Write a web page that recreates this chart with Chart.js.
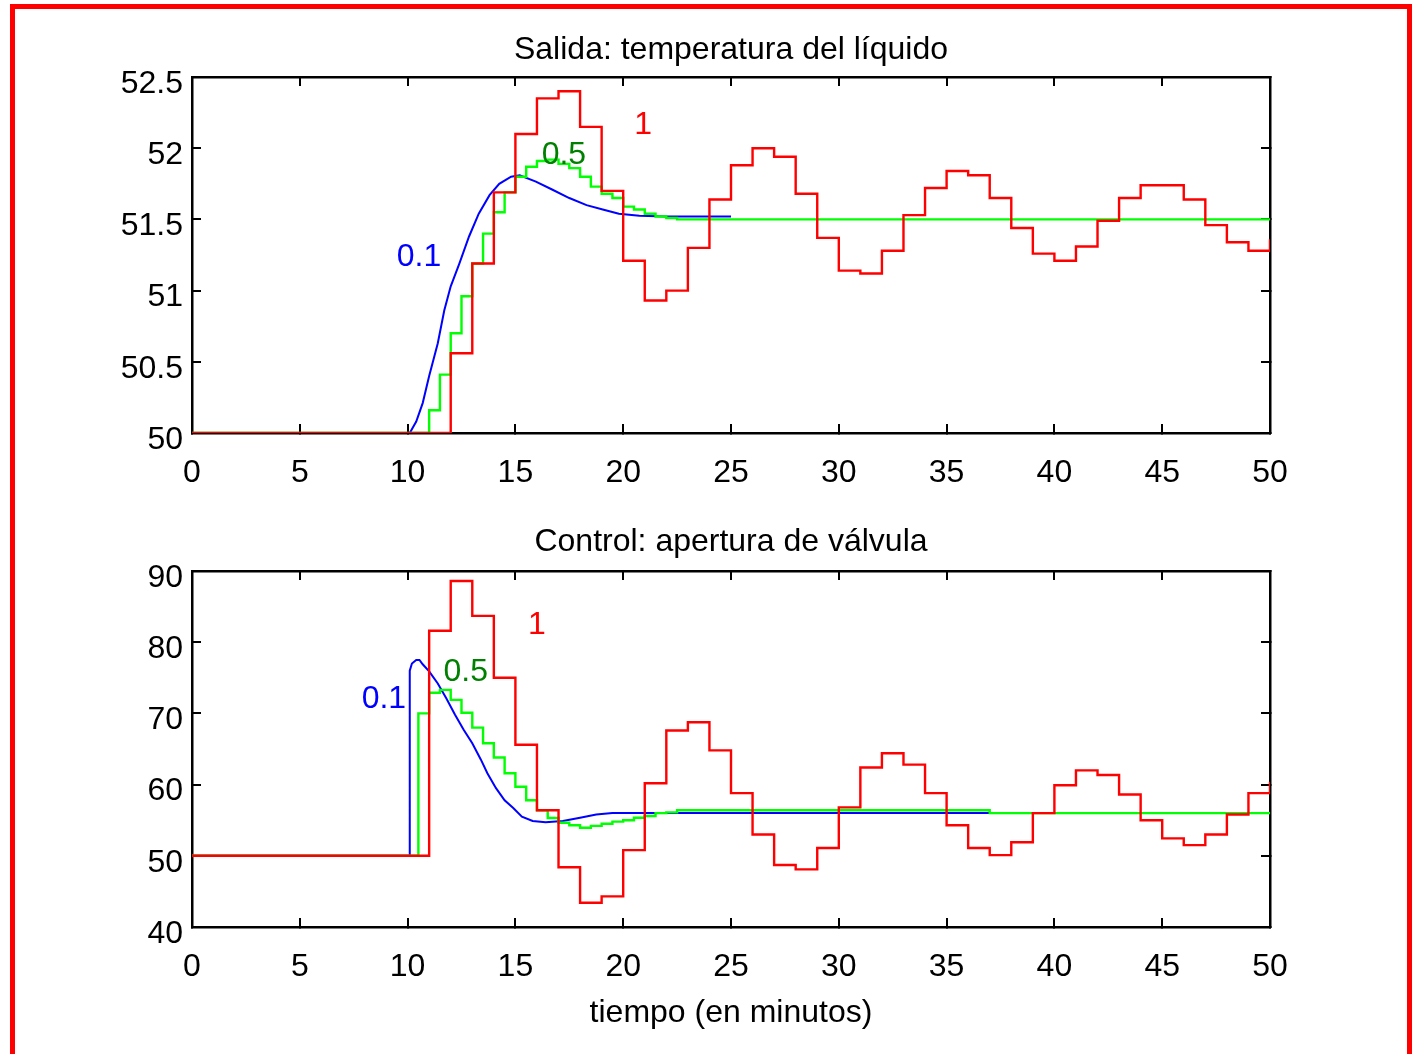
<!DOCTYPE html>
<html>
<head>
<meta charset="utf-8">
<script src="https://cdn.jsdelivr.net/npm/chart.js@4.4.1/dist/chart.umd.min.js"></script>
<style>
  html, body { margin: 0; padding: 0; background: #fff; }
  body { width: 1412px; height: 1054px; position: relative; overflow: hidden; }
  #frame { position: absolute; left: 10px; top: 4px; width: 1402px; height: 1100px; border: 5px solid #f00; box-sizing: border-box; }
  canvas { position: absolute; left: 50px; }
  #salida { top: 0; }
  #control { top: 494px; }
</style>
</head>
<body>
<div id="frame"></div>
<canvas id="salida" width="1362" height="500"></canvas>
<canvas id="control" width="1362" height="560"></canvas>
<script>
const FONT = '"Liberation Sans", Arial, sans-serif';
const SIZE = 32;

// sample instants for the 1-minute controller (red)
const minutes = [0,1,2,3,4,5,6,7,8,9,10,11,12,13,14,15,16,17,18,19,20,21,22,23,24,25,
  26,27,28,29,30,31,32,33,34,35,36,37,38,39,40,41,42,43,44,45,46,47,48,49,50];

// --- salida: temperatura del liquido ---
const redTemp = [50,50,50,50,50,50,50,50,50,50,50,50,50.56,51.19,51.69,52.10,52.35,52.40,52.15,51.70,
  51.21,50.93,51.00,51.30,51.64,51.88,52.00,51.94,51.68,51.37,51.14,51.12,51.28,51.53,51.72,51.84,
  51.81,51.65,51.44,51.26,51.21,51.31,51.49,51.65,51.74,51.74,51.64,51.46,51.34,51.28,51.36];

const greenTempTime = [0,11,11.5,12,12.5,13,13.5,14,14.5,15,15.5,16,16.5,17,17.5,18,18.5,19,19.5,20,20.5,21,21.5,22,22.5,50];
const greenTemp = [50,50.16,50.41,50.70,50.96,51.19,51.40,51.55,51.69,51.80,51.87,51.91,51.92,51.89,51.86,51.80,
  51.73,51.68,51.65,51.59,51.57,51.54,51.52,51.51,51.50,51.50];

const blueTempTime = [0,10.1,10.4,10.7,11.0,11.4,11.7,12.0,12.4,12.85,13.3,13.8,14.25,14.8,15.2,15.95,16.7,17.5,18.3,19.05,19.8,20.75,22,25];
const blueTemp = [50,50,50.08,50.21,50.40,50.63,50.86,51.03,51.19,51.38,51.54,51.67,51.75,51.80,51.81,51.765,
  51.71,51.65,51.60,51.57,51.54,51.525,51.52,51.52];

// --- control: apertura de valvula ---
const redOpen = [50,50,50,50,50,50,50,50,50,50,50,81.6,88.6,83.7,75.0,65.6,56.4,48.4,43.4,44.3,50.8,60.2,
  67.6,68.75,64.8,58.8,53.0,48.7,48.1,51.1,56.8,62.4,64.4,62.8,58.8,54.3,51.1,50.1,51.9,56.0,59.9,62.0,
  61.35,58.6,55.0,52.45,51.5,53.0,55.8,58.8,60.4];

const greenOpenTime = [0,10.5,11,11.5,12,12.5,13,13.5,14,14.5,15,15.5,16,16.5,17,17.5,18,18.5,19,19.5,20,20.5,21,21.5,22,22.5,37,50];
const greenOpen = [50,70.0,72.9,73.3,71.9,70.1,68.0,65.8,63.8,61.6,59.7,57.8,56.4,55.3,54.65,54.3,53.95,54.2,
  54.5,54.8,55.0,55.35,55.6,56.0,56.1,56.4,56.0,56.0];

const blueOpenTime = [0,10.1,10.1,10.2,10.4,10.55,10.7,11.0,11.4,11.8,12.2,12.6,13.0,13.4,13.7,14.1,14.5,14.9,15.3,15.8,16.4,17.2,18.0,18.75,19.5,37];
const blueOpen = [50,50,76.0,77.0,77.5,77.5,76.9,75.9,74.2,72.1,69.8,67.7,65.8,63.5,61.6,59.5,57.8,56.7,55.5,
  54.9,54.7,54.9,55.35,55.8,56.0,56.0];

// curve tags (period labels)
const tagText = ['0.1', '0.5', '1'];
const tagColor = ['#0000ff', '#008000', '#ff0000'];
const tempTagX = [10.53, 17.25, 20.92];
const tempTagY = [51.236, 51.95, 52.16];
const openTagX = [8.9, 12.7, 16.0];
const openTagY = [72.0, 75.8, 82.4];

const pts = (xs, ys) => xs.map((x, i) => ({x, y: ys[i]}));

const curveTags = {
  id: 'curveTags',
  afterDatasetsDraw(chart, args, opts) {
    const {ctx, scales: {x, y}} = chart;
    ctx.save();
    ctx.font = SIZE + 'px ' + FONT;
    ctx.textAlign = 'center';
    ctx.textBaseline = 'middle';
    opts.text.forEach((t, i) => {
      ctx.fillStyle = opts.colors[i];
      ctx.fillText(t, x.getPixelForValue(opts.x[i]), y.getPixelForValue(opts.y[i]));
    });
    ctx.restore();
  }
};

function makeScales(yMin, yMax, yStep, xHeight, xTitle) {
  const grid = {drawOnChartArea: false, drawTicks: true, tickLength: -9, color: '#000', lineWidth: 2};
  const border = {display: true, color: '#000', width: 2.5};
  const font = {family: FONT, size: SIZE};
  return {
    x: {
      type: 'linear', position: 'bottom', min: 0, max: 50,
      ticks: {stepSize: 5, color: '#000', font, padding: 29.5, maxRotation: 0, autoSkip: false},
      grid, border,
      title: {display: !!xTitle, text: xTitle || '', color: '#000', font, padding: {top: 0, bottom: 22}},
      afterFit: s => { s.height = xHeight; }
    },
    x2: {
      type: 'linear', position: 'top', min: 0, max: 50,
      ticks: {stepSize: 5, display: false},
      grid, border,
      afterFit: s => { s.height = 0; }
    },
    y: {
      type: 'linear', position: 'left', min: yMin, max: yMax,
      ticks: {stepSize: yStep, color: '#000', font, padding: 18, labelOffset: 7,
        callback: v => String(Math.round(v * 10) / 10)},
      grid, border,
      afterFit: s => { s.width = 142; }
    },
    y2: {
      type: 'linear', position: 'right', min: yMin, max: yMax,
      ticks: {stepSize: yStep, display: false},
      grid, border,
      afterFit: s => { s.width = 142; }
    }
  };
}

function line(data, color) {
  return {data, borderColor: color, borderWidth: 2.4, pointRadius: 0, fill: false, stepped: true};
}

function makeChart(id, title, titlePad, series, scales, tags) {
  return new Chart(document.getElementById(id), {
    type: 'line',
    data: {datasets: series},
    options: {
      responsive: false,
      animation: false,
      layout: {padding: 0},
      scales,
      plugins: {
        legend: {display: false},
        tooltip: {enabled: false},
        title: {display: true, text: title, color: '#000', font: {family: FONT, size: SIZE, weight: 'normal', lineHeight: 1}, padding: titlePad},
        curveTags: tags
      }
    },
    plugins: [curveTags]
  });
}

makeChart('salida', 'Salida: temperatura del líquido', {top: 34, bottom: 11}, [
  line(pts(minutes, redTemp), '#ff0000'),
  line(pts(greenTempTime, greenTemp), '#00ff00'),
  Object.assign(line(pts(blueTempTime, blueTemp), '#0000ff'), {stepped: false, borderWidth: 2})
], makeScales(50, 52.5, 0.5, 67, null),
  {text: tagText, colors: tagColor, x: tempTagX, y: tempTagY});

makeChart('control', 'Control: apertura de válvula', {top: 32, bottom: 13}, [
  line(pts(minutes, redOpen), '#ff0000'),
  line(pts(greenOpenTime, greenOpen), '#00ff00'),
  Object.assign(line(pts(blueOpenTime, blueOpen), '#0000ff'), {stepped: false, borderWidth: 2})
], makeScales(40, 90, 10, 127, 'tiempo (en minutos)'),
  {text: tagText, colors: tagColor, x: openTagX, y: openTagY});
</script>
</body>
</html>
